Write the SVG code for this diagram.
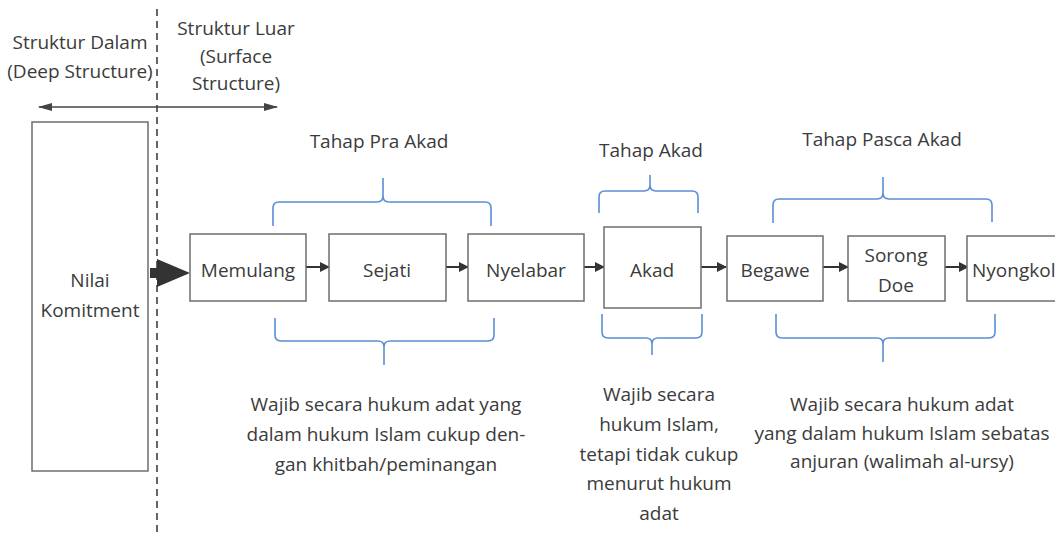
<svg xmlns="http://www.w3.org/2000/svg" width="1055" height="534" viewBox="0 0 1055 534">
<style>
text{font-family:"Open Sans","Noto Sans","DejaVu Sans",sans-serif;font-size:19px;fill:#3b3b3b;text-anchor:middle}
.box{fill:#fff;stroke:#6e6e6e;stroke-width:1.5}
.ar{stroke:#333;stroke-width:2;fill:none}
.br{stroke:#5b8ed6;stroke-width:1.6;fill:none}
</style>
<defs>
<marker id="ah" markerWidth="10" markerHeight="10" refX="9" refY="5" orient="auto" markerUnits="userSpaceOnUse"><path d="M0,0 L10,5 L0,10 Z" fill="#333"/></marker>
<marker id="ah2" markerWidth="14" markerHeight="10" refX="13" refY="5" orient="auto-start-reverse" markerUnits="userSpaceOnUse"><path d="M0,1 L14,5 L0,9 Z" fill="#444"/></marker>
</defs>
<rect width="1055" height="534" fill="#fff"/>
<g id="labels-top">
<text x="80" y="49">Struktur Dalam</text>
<text x="80" y="78">(Deep Structure)</text>
<text x="236" y="35">Struktur Luar</text>
<text x="236" y="63">(Surface</text>
<text x="236" y="90">Structure)</text>
<text x="379" y="148">Tahap Pra Akad</text>
<text x="651" y="157">Tahap Akad</text>
<text x="882" y="146">Tahap Pasca Akad</text>
</g>
<g id="connectors">
<line x1="157" y1="9" x2="157" y2="534" stroke="#333" stroke-width="1.5" stroke-dasharray="7,5"/>
<line x1="39" y1="107" x2="277" y2="107" stroke="#444" stroke-width="1.5" marker-start="url(#ah2)" marker-end="url(#ah2)"/>
<rect x="150" y="268" width="10" height="10" fill="#333"/>
<path d="M157,259 L190,273 L157,287 Z" fill="#333"/>
<line class="ar" x1="306" y1="267" x2="329" y2="267" marker-end="url(#ah)"/>
<line class="ar" x1="446" y1="267" x2="468" y2="267" marker-end="url(#ah)"/>
<line class="ar" x1="584" y1="267" x2="604" y2="267" marker-end="url(#ah)"/>
<line class="ar" x1="701" y1="267" x2="726" y2="267" marker-end="url(#ah)"/>
<line class="ar" x1="823" y1="267" x2="848" y2="267" marker-end="url(#ah)"/>
<line class="ar" x1="945" y1="267" x2="968" y2="267" marker-end="url(#ah)"/>
</g>
<g id="braces">
<path class="br" d="M273,226 V208 Q273,202 279,202 H377 Q383,202 383,196 V178 M383,196 Q383,202 389,202 H485 Q491,202 491,208 V226"/>
<path class="br" d="M275,318 V335 Q275,341 281,341 H378 Q384,341 384,347 V365 M384,347 Q384,341 390,341 H488 Q494,341 494,335 V318"/>
<path class="br" d="M599,213 V197 Q599,191 605,191 H644 Q650,191 650,185 V175 M650,185 Q650,191 656,191 H692 Q698,191 698,197 V213"/>
<path class="br" d="M602,314 V332 Q602,338 608,338 H646 Q652,338 652,344 V355 M652,344 Q652,338 658,338 H696 Q702,338 702,332 V314"/>
<path class="br" d="M773,223 V205 Q773,199 779,199 H877 Q883,199 883,193 V177 M883,193 Q883,199 889,199 H986 Q992,199 992,205 V222"/>
<path class="br" d="M776,314 V332 Q776,338 782,338 H877 Q883,338 883,344 V362 M883,344 Q883,338 889,338 H989 Q995,338 995,332 V314"/>
</g>
<g id="node-nilai">
<rect class="box" x="32" y="122" width="116" height="349"/>
<text x="90" y="287">Nilai</text>
<text x="90" y="317">Komitment</text>
</g>
<g id="node-memulang">
<rect class="box" x="190" y="234" width="116" height="67"/>
<text x="248" y="277">Memulang</text>
</g>
<g id="node-sejati">
<rect class="box" x="329" y="234" width="117" height="67"/>
<text x="387" y="277">Sejati</text>
</g>
<g id="node-nyelabar">
<rect class="box" x="468" y="234" width="116" height="67"/>
<text x="526" y="277">Nyelabar</text>
</g>
<g id="node-akad">
<rect class="box" x="604" y="227" width="97" height="81"/>
<text x="652" y="277">Akad</text>
</g>
<g id="node-begawe">
<rect class="box" x="727" y="236" width="96" height="65"/>
<text x="775" y="277">Begawe</text>
</g>
<g id="node-sorongdoe">
<rect class="box" x="848" y="236" width="97" height="65"/>
<text x="896" y="262">Sorong</text>
<text x="896" y="292">Doe</text>
</g>
<g id="node-nyongkol">
<rect class="box" x="967" y="236" width="110" height="65"/>
<text x="972" y="277" style="text-anchor:start">Nyongkol</text>
</g>
<g id="notes">
<text x="386" y="411">Wajib secara hukum adat yang</text>
<text x="386" y="441">dalam hukum Islam cukup den-</text>
<text x="386" y="471">gan khitbah/peminangan</text>
<text x="659" y="401">Wajib secara</text>
<text x="659" y="431">hukum Islam,</text>
<text x="659" y="461">tetapi tidak cukup</text>
<text x="659" y="490">menurut hukum</text>
<text x="659" y="520">adat</text>
<text x="902" y="411">Wajib secara hukum adat</text>
<text x="902" y="440">yang dalam hukum Islam sebatas</text>
<text x="902" y="468">anjuran (walimah al-ursy)</text>
</g>
</svg>
